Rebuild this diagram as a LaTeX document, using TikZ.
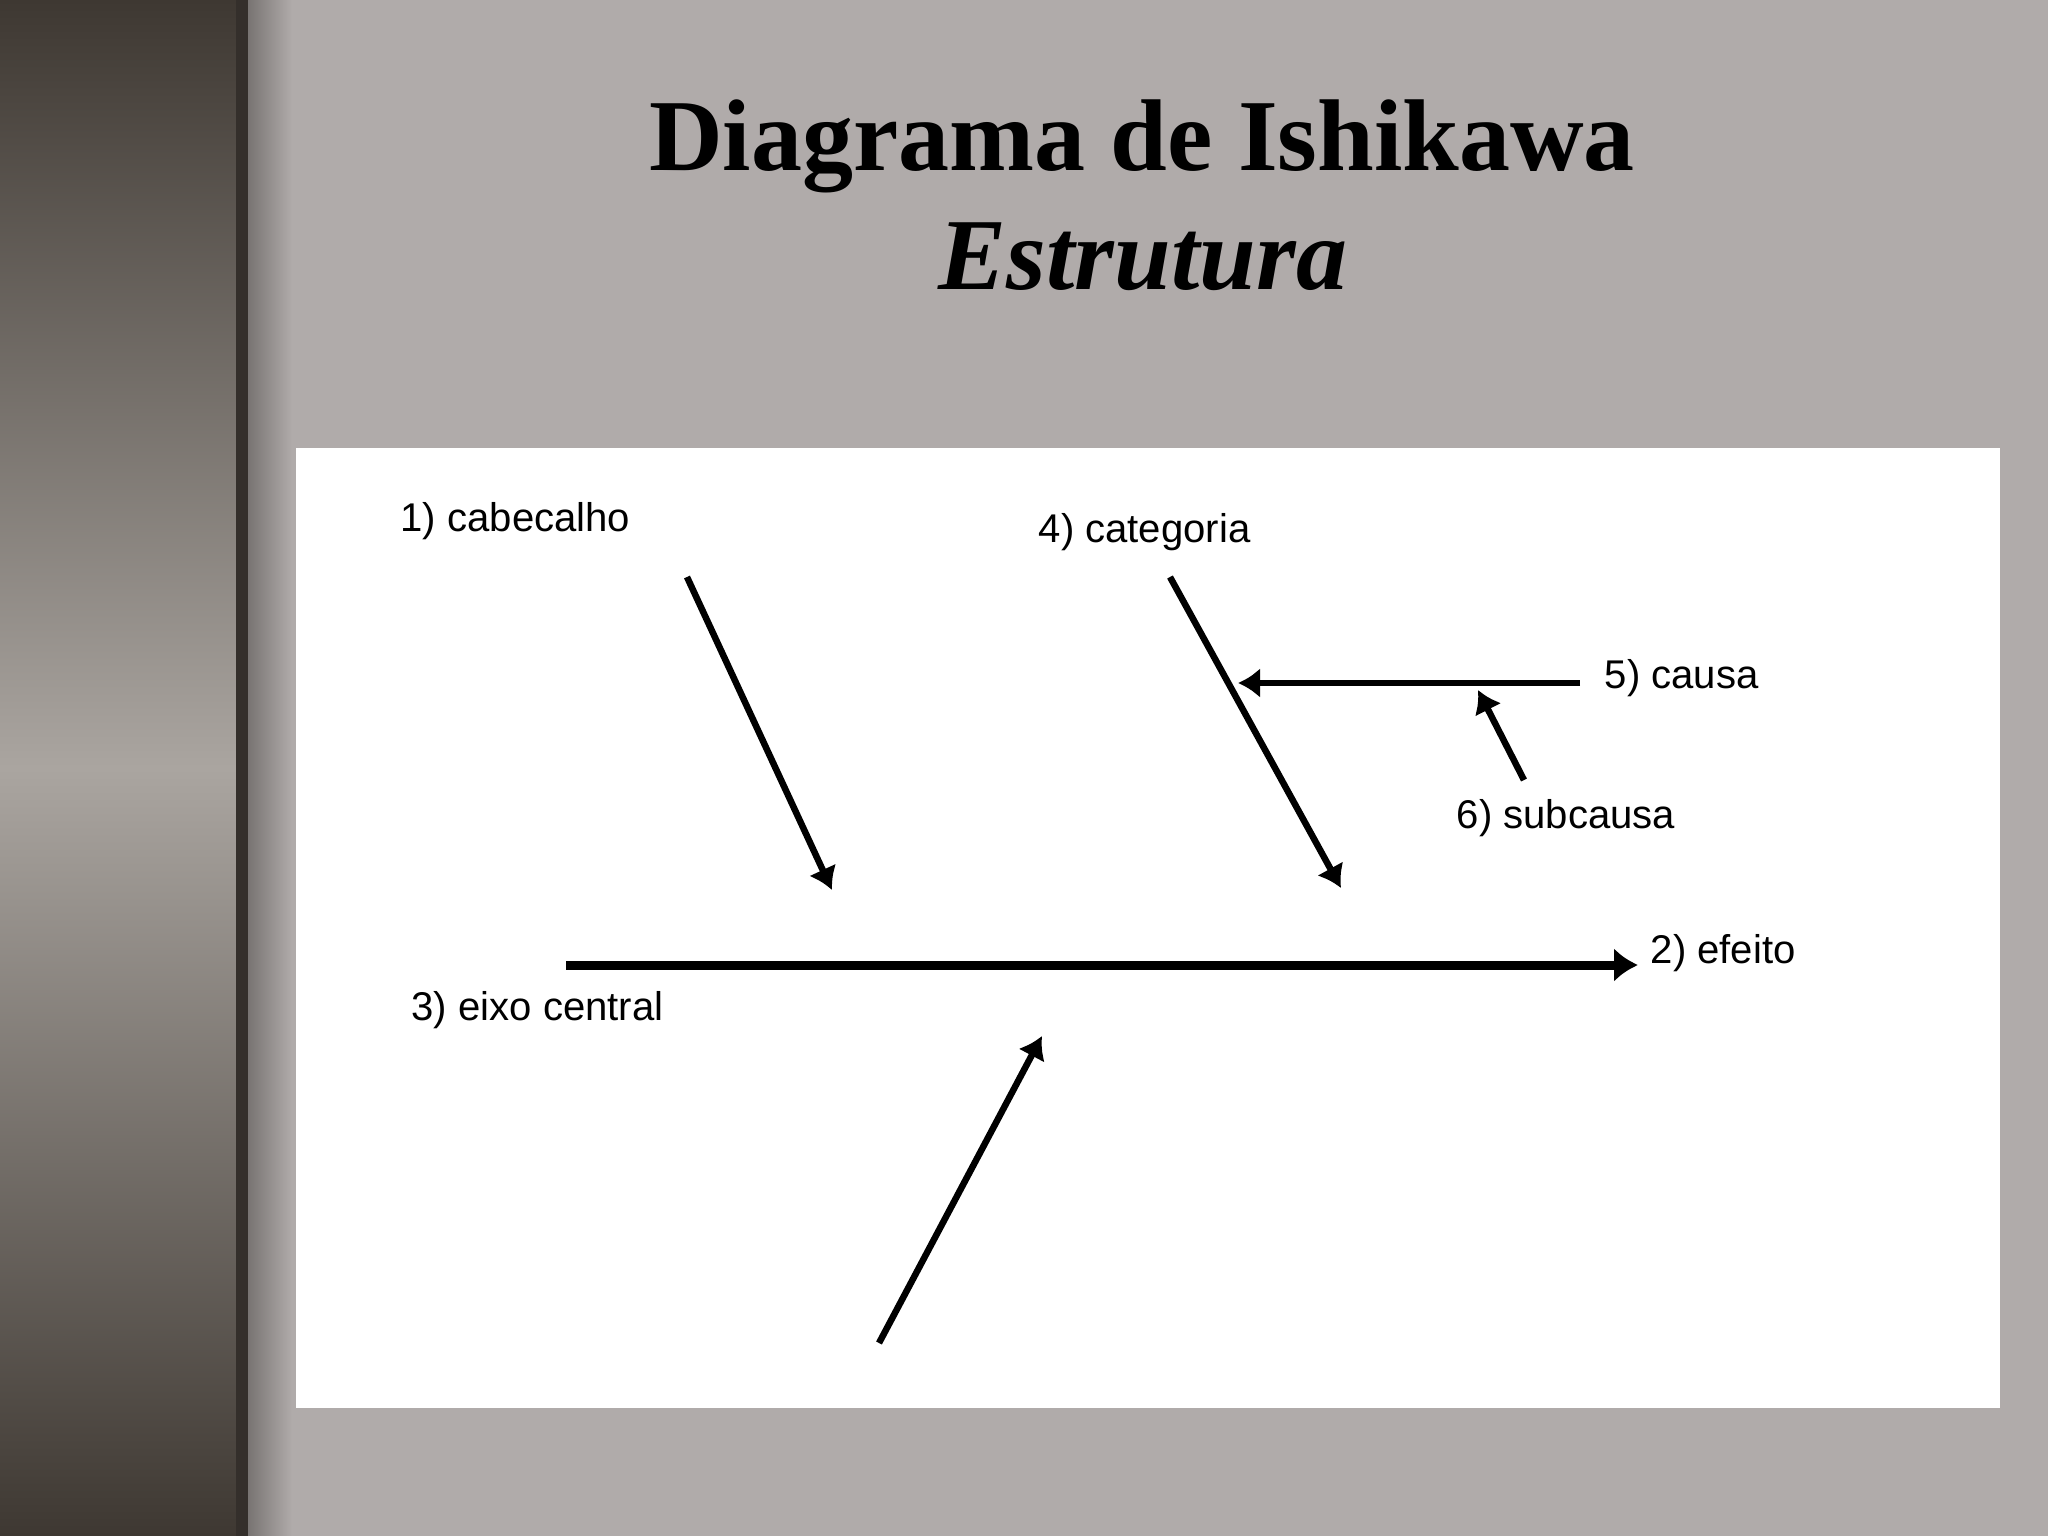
\documentclass[tikz,border=0pt]{standalone}
\usepackage{fontspec}
\setmainfont{Liberation Serif}
\setsansfont{Liberation Sans}
\usepackage{xcolor}
\usetikzlibrary{arrows.meta}

\definecolor{slidegray}{RGB}{176,171,170}
\definecolor{bardark}{RGB}{62,56,50}
\definecolor{barlight}{RGB}{170,165,160}
\definecolor{baredge}{RGB}{52,47,43}
\definecolor{shadowgray}{RGB}{120,116,114}

\begin{document}
\begin{tikzpicture}[x=0.01cm,y=-0.01cm,
  bone/.style={line width=0.065cm, -{Latex[length=0.22cm,width=0.3cm]}},
  spine/.style={line width=0.09cm, -{Latex[length=0.24cm,width=0.34cm]}},
  lbl/.style={anchor=west, inner sep=0pt, font=\sffamily\fontsize{11.4pt}{13pt}\selectfont}]

  % slide background
  \fill[slidegray] (0,0) rectangle (2048,1536);
  \useasboundingbox (0,0) rectangle (2048,1536);

  % left bar with its edge and shadow
  \shade[top color=bardark, bottom color=bardark, middle color=barlight] (0,0) rectangle (236,1536);
  \fill[baredge] (236,0) rectangle (248,1536);
  \shade[left color=shadowgray, right color=slidegray] (248,0) rectangle (292,1536);

  % title
  \node[anchor=base, inner sep=0pt] (title) at (1142,170)
    {\fontsize{29pt}{34pt}\selectfont\bfseries Diagrama de Ishikawa};
  \node[anchor=base, inner sep=0pt] (subtitle) at (1143,289)
    {\fontsize{29pt}{34pt}\selectfont\bfseries\itshape Estrutura};

  % white panel
  \fill[white] (296,448) rectangle (2000,1408);

  % end points of the bones
  \coordinate (cab-s) at (687,577);
  \coordinate (cab-e) at (832,890);
  \coordinate (cat-s) at (1170,577);
  \coordinate (cat-e) at (1341,888);
  \coordinate (cau-s) at (1580,683);
  \coordinate (cau-e) at (1238,683);
  \coordinate (sub-s) at (1524,780);
  \coordinate (sub-e) at (1478,690);
  \coordinate (eixo-s) at (566,965);
  \coordinate (eixo-e) at (1638,965);
  \coordinate (low-s) at (879,1343);
  \coordinate (low-e) at (1042,1036);

  % bones
  \draw[bone] (cab-s) -- (cab-e);
  \draw[bone] (cat-s) -- (cat-e);
  \draw[bone] (cau-s) -- (cau-e);
  \draw[bone] (sub-s) -- (sub-e);
  \draw[spine] (eixo-s) -- (eixo-e);
  \draw[bone] (low-s) -- (low-e);

  % labels
  \node[lbl] (cabecalho) at (400,521) {1) cabecalho};
  \node[lbl] (categoria) at (1038,532) {4) categoria};
  \node[lbl] (causa) at (1604,678) {5) causa};
  \node[lbl] (subcausa) at (1456,818) {6) subcausa};
  \node[lbl] (efeito) at (1650,953) {2) efeito};
  \node[lbl] (eixo) at (411,1010) {3) eixo central};

\end{tikzpicture}
\end{document}
